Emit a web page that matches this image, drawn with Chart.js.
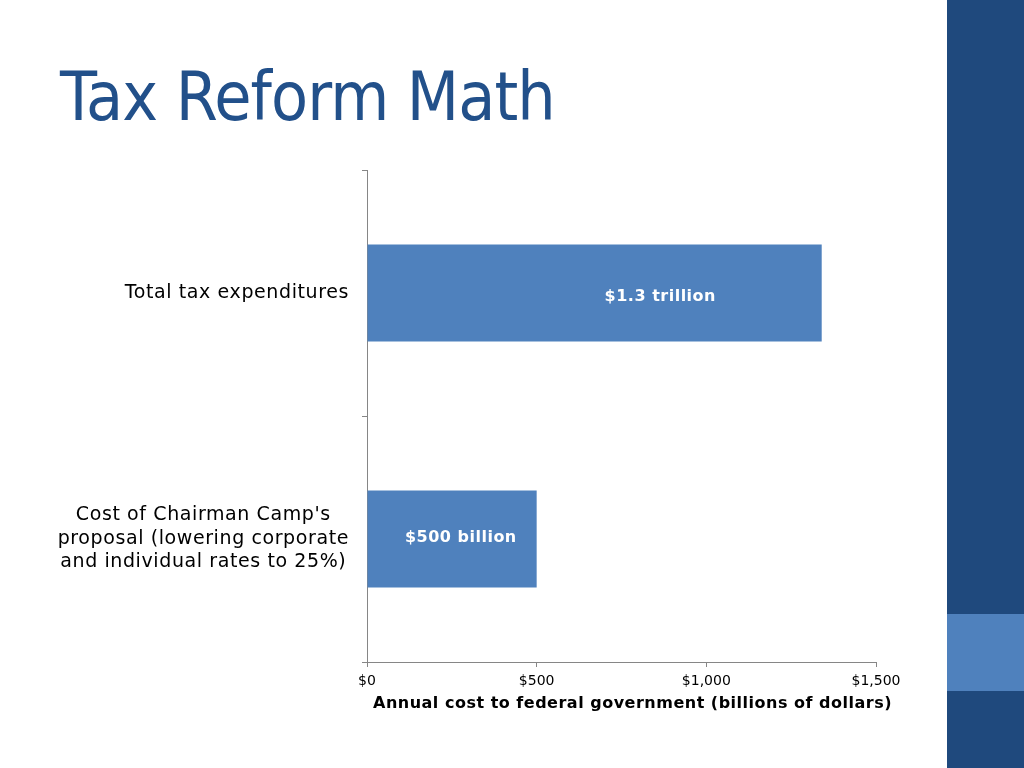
<!DOCTYPE html>
<html>
<head>
<meta charset="utf-8">
<script src="https://cdn.jsdelivr.net/npm/chart.js@4"></script>
<style>
  html, body { margin: 0; padding: 0; background: #fff; }
  #page { position: relative; width: 1024px; height: 768px; overflow: hidden; background: #fff; }
  #title { position: absolute; left: 60px; top: 57px; margin: 0; font-family: "DejaVu Sans", Verdana, sans-serif;
           font-weight: normal; font-size: 67px; line-height: 80px; color: #22508A; white-space: nowrap;
           letter-spacing: -1px; transform: scaleX(0.905); transform-origin: 0 0; }
  #side { position: absolute; left: 947px; top: 0; width: 77px; height: 768px; background: #1F497D; }
  #sideLight { position: absolute; left: 947px; top: 614px; width: 77px; height: 77px; background: #4F81BD; }
  #wrap { position: absolute; left: 0; top: 0; width: 1024px; height: 768px; }
</style>
</head>
<body>
<div id="page">
  <h1 id="title">Tax Reform Math</h1>
  <div id="side"></div>
  <div id="sideLight"></div>
  <div id="wrap"><canvas id="c" width="1024" height="768"></canvas></div>
</div>
<script>
const categories = [
  ["Total tax expenditures"],
  ["Cost of Chairman Camp's", "proposal (lowering corporate", "and individual rates to 25%)"]
];
const values = [1340, 500];
const valueLabels = ["$1.3 trillion", "$500 billion"];
const xTicks = [0, 500, 1000, 1500];
const xTickLabels = ["$0", "$500", "$1,000", "$1,500"];
const xTitle = "Annual cost to federal government (billions of dollars)";

const FONT = "'DejaVu Sans', Verdana, sans-serif";
const AXIS_GRAY = "#868686";

const labelPlugin = {
  id: 'customLabels',
  afterDatasetsDraw(chart, args, opts) {
    const ctx = chart.ctx;
    const meta = chart.getDatasetMeta(0);
    const xs = chart.scales.x;
    ctx.save();
    ctx.font = "bold 16px " + FONT;
    ctx.letterSpacing = "0.5px";
    ctx.fillStyle = "#ffffff";
    ctx.textAlign = "center";
    ctx.textBaseline = "middle";
    meta.data.forEach((bar, i) => {
      const x0 = xs.getPixelForValue(0);
      const x = x0 + (bar.x - x0) * opts.frac[i];
      ctx.fillText(valueLabels[i], x, bar.y + opts.dy[i]);
    });
    ctx.restore();
  },
  afterDraw(chart) {
    const ctx = chart.ctx;
    const ys = chart.scales.y;
    const xs = chart.scales.x;
    ctx.save();
    ctx.font = "19px " + FONT;
    ctx.letterSpacing = "0.6px";
    ctx.fillStyle = "#000000";
    ctx.textAlign = "center";
    ctx.textBaseline = "middle";
    const lh = 23.5;
    categories.forEach((lines, i) => {
      const cy = ys.getPixelForTick(i);
      let widest = 0;
      lines.forEach(l => { widest = Math.max(widest, ctx.measureText(l).width); });
      const cx = ys.right - 18 - widest / 2;
      lines.forEach((l, j) => {
        ctx.fillText(l, cx, cy + (j - (lines.length - 1) / 2) * lh);
      });
    });
    // x axis title
    ctx.font = "bold 16px " + FONT;
    ctx.letterSpacing = "0.5px";
    ctx.fillText(xTitle, (xs.left + xs.right) / 2 + 11, xs.bottom - 9);
    ctx.restore();
  }
};

new Chart(document.getElementById('c'), {
  type: 'bar',
  data: {
    labels: categories,
    datasets: [{
      data: values,
      backgroundColor: '#4F81BD',
      borderWidth: 0,
      barPercentage: 0.395,
      categoryPercentage: 1.0
    }]
  },
  plugins: [labelPlugin],
  options: {
    indexAxis: 'y',
    responsive: false,
    animation: false,
    devicePixelRatio: 1,
    layout: { padding: { left: 0, right: 148, top: 170, bottom: 55 } },
    plugins: {
      legend: { display: false },
      tooltip: { enabled: false },
      customLabels: { frac: [0.645, 0.553], dy: [4, -1] }
    },
    scales: {
      x: {
        type: 'linear',
        min: 0, max: 1500,
        afterBuildTicks(scale) { scale.ticks = xTicks.map(v => ({ value: v })); },
        afterFit(scale) { scale.height = 51; },
        ticks: {
          callback: (v) => xTickLabels[xTicks.indexOf(v)],
          font: { family: FONT, size: 14 },
          color: '#000',
          padding: 6,
          maxRotation: 0
        },
        grid: { drawOnChartArea: false, drawTicks: true, tickLength: 5, color: AXIS_GRAY },
        border: { color: AXIS_GRAY, width: 1 },
        title: { display: false }
      },
      y: {
        afterFit(scale) { scale.width = 367; },
        ticks: { display: false },
        grid: { drawOnChartArea: false, drawTicks: true, tickLength: 5, color: AXIS_GRAY, offset: true },
        border: { color: AXIS_GRAY, width: 1 }
      }
    }
  }
});
</script>
</body>
</html>
